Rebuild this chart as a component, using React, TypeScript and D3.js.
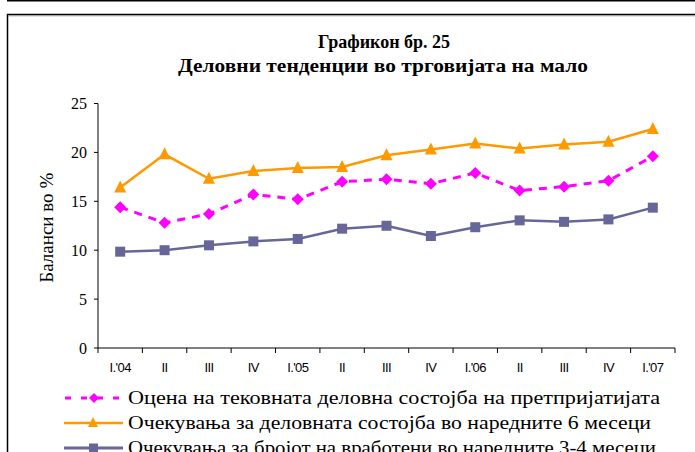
import React from "react";
import * as d3 from "d3";

const categories = ["I.'04", "II", "III", "IV", "I.'05", "II", "III", "IV", "I.'06", "II", "III", "IV", "I.'07"];
const currentState = [14.4, 12.8, 13.7, 15.7, 15.2, 17.0, 17.25, 16.8, 17.9, 16.1, 16.5, 17.1, 19.6];
const expectedState = [16.4, 19.8, 17.3, 18.1, 18.4, 18.5, 19.7, 20.3, 20.9, 20.4, 20.8, 21.1, 22.4];
const expectedEmployment = [9.85, 10.0, 10.5, 10.9, 11.15, 12.2, 12.5, 11.45, 12.35, 13.05, 12.9, 13.15, 14.35];
const yTicks = [0, 5, 10, 15, 20, 25];
const legendLabels = [
  "Оцена на тековната деловна состојба на претпријатијата",
  "Очекувања за деловната состојба  во наредните 6 месеци",
  "Очекувања за бројот на вработени во наредните 3-4 месеци",
];

const W = 695;
const H = 452;
const M = { left: 98, right: 675, top: 103.5, bottom: 348 };

export default function App() {
  const idx = categories.map((_, i) => String(i));
  const x = d3.scaleBand<string>().domain(idx).range([M.left, M.right]).padding(0);
  const y = d3.scaleLinear().domain([0, 25]).range([M.bottom, M.top]);
  const cx = (i: number) => (x(String(i)) as number) + x.bandwidth() / 2;
  const line = d3
    .line<number>()
    .x((_, i) => cx(i))
    .y((d) => y(d));

  const serif = { fontFamily: "Liberation Serif, DejaVu Serif, serif" };
  const sans = { fontFamily: "Liberation Sans, Arial, sans-serif" };

  const diamond = (px: number, py: number, r = 6) =>
    `M${px},${py - r}L${px + r},${py}L${px},${py + r}L${px - r},${py}Z`;
  const triangle = (px: number, py: number, r = 6) =>
    `M${px},${py - r - 1}L${px + r},${py + r - 1}L${px - r},${py + r - 1}Z`;

  const boundaries = d3.range(categories.length + 1).map((i) => M.left + i * x.bandwidth());

  const legendY = [398, 423, 448];

  return (
    <svg
      width={W}
      height={H}
      style={{ position: "absolute", left: 0, top: 0, display: "block", background: "#fff" }}
    >
      <rect x={0} y={0} width={W} height={H} fill="#fff" />
      {/* top rule and frame */}
      <line x1={7} x2={W} y1={0.75} y2={0.75} stroke="#000" strokeWidth={1.5} />
      <path d={`M7.5,${H}V14.5H${W}`} fill="none" stroke="#000" strokeWidth={1.5} />
      <line x1={8} x2={W} y1={15.8} y2={15.8} stroke="#999" strokeWidth={1} />

      {/* title */}
      <text x={384} y={48} textAnchor="middle" style={serif} fontWeight="bold" fontSize={18}>
        Графикон бр. 25
      </text>
      <text
        x={178}
        y={72}
        style={serif}
        fontWeight="bold"
        fontSize={18}
        textLength={410}
        lengthAdjust="spacingAndGlyphs"
      >
        Деловни тенденции во трговијата на мало
      </text>

      {/* y axis */}
      <line x1={M.left} x2={M.left} y1={M.top} y2={M.bottom} stroke="#000" strokeWidth={1} />
      {yTicks.map((t) => (
        <g key={t}>
          <line x1={M.left - 4} x2={M.left} y1={y(t)} y2={y(t)} stroke="#000" />
          <text
            x={87}
            y={y(t)}
            dy="0.35em"
            textAnchor="end"
            style={serif}
            fontSize={16}
            fill="#000"
          >
            {t}
          </text>
        </g>
      ))}
      <text
        transform={`translate(53,${(M.top + M.bottom) / 2 + 2}) rotate(-90)`}
        textAnchor="middle"
        style={serif}
        fontSize={18}
        textLength={110}
        lengthAdjust="spacingAndGlyphs"
      >
        Баланси во %
      </text>

      {/* x axis */}
      <line x1={M.left} x2={M.right} y1={M.bottom} y2={M.bottom} stroke="#000" strokeWidth={1} />
      {boundaries.map((b, i) => (
        <line key={i} x1={b} x2={b} y1={M.bottom} y2={M.bottom + 5} stroke="#000" />
      ))}
      {categories.map((c, i) => (
        <text
          key={i}
          x={cx(i)}
          y={372}
          textAnchor="middle"
          style={sans}
          fontSize={13}
          letterSpacing={-0.6}
        >
          {c}
        </text>
      ))}

      {/* series */}
      <path d={line(expectedEmployment) || ""} fill="none" stroke="#666699" strokeWidth={2.5} />
      {expectedEmployment.map((v, i) => (
        <rect key={i} x={cx(i) - 5} y={y(v) - 5} width={10} height={10} fill="#666699" />
      ))}
      <path d={line(expectedState) || ""} fill="none" stroke="#FF9900" strokeWidth={2.5} />
      {expectedState.map((v, i) => (
        <path key={i} d={triangle(cx(i), y(v))} fill="#FF9900" />
      ))}
      <path
        d={line(currentState) || ""}
        fill="none"
        stroke="#FF00FF"
        strokeWidth={3}
        strokeDasharray="8 7"
      />
      {currentState.map((v, i) => (
        <path key={i} d={diamond(cx(i), y(v))} fill="#FF00FF" />
      ))}

      {/* legend */}
      <line x1={65} x2={123} y1={legendY[0]} y2={legendY[0]} stroke="#FF00FF" strokeWidth={3} strokeDasharray="6 10" />
      <path d={diamond(94, legendY[0], 5)} fill="#FF00FF" />
      <line x1={64} x2={123} y1={legendY[1]} y2={legendY[1]} stroke="#FF9900" strokeWidth={2.5} />
      <path d={triangle(93, legendY[1], 5)} fill="#FF9900" />
      <line x1={64} x2={123} y1={legendY[2]} y2={legendY[2]} stroke="#666699" strokeWidth={3} />
      <rect x={89} y={legendY[2] - 4.5} width={9} height={9} fill="#666699" />
      {legendLabels.map((l, i) => (
        <text
          key={i}
          x={128}
          y={legendY[i] + 6}
          style={serif}
          fontSize={19}
          textLength={i === 0 ? 532 : i === 1 ? 523 : 528}
          lengthAdjust="spacingAndGlyphs"
        >
          {l}
        </text>
      ))}
    </svg>
  );
}
